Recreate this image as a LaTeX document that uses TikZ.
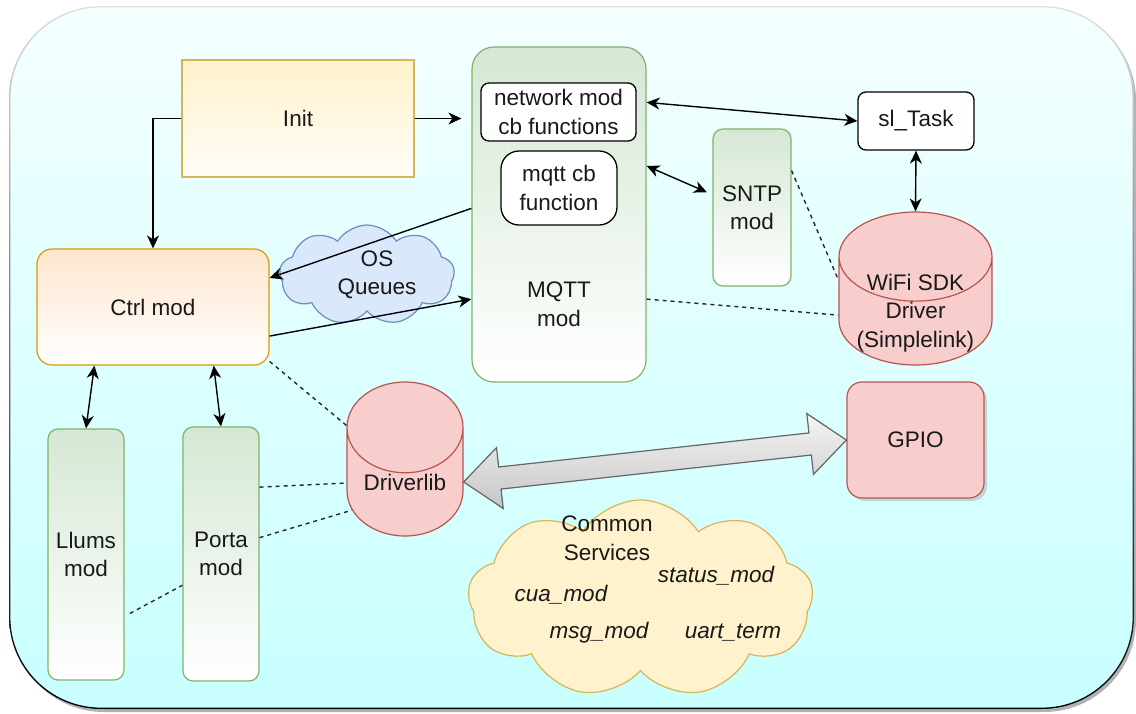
\documentclass[tikz,border=0pt]{standalone}
\usepackage{fontspec}
\setmainfont{Liberation Sans}
\usetikzlibrary{arrows.meta,calc,shadows,shapes.arrows,shapes.geometric,shapes.symbols}

\definecolor{bgtop}{HTML}{F4FFFF}
\definecolor{bgmid}{HTML}{D6FFFF}
\definecolor{bgbot}{HTML}{C8FFFF}
\definecolor{yelfill}{HTML}{FFF2CC}
\definecolor{yelline}{HTML}{D6B656}
\definecolor{orgfill}{HTML}{FFE6CC}
\definecolor{orgline}{HTML}{D79B00}
\definecolor{grnfill}{HTML}{D5E8D4}
\definecolor{grnline}{HTML}{82B366}
\definecolor{redfill}{HTML}{F8CECC}
\definecolor{redline}{HTML}{B85450}
\definecolor{blufill}{HTML}{DAE8FC}
\definecolor{bluline}{HTML}{6C8EBF}

\tikzset{
  txt/.style={font=\fontsize{22.5}{28.5}\selectfont, align=center, text=black!90},
  svc/.style={txt, font=\fontsize{22.5}{28.5}\selectfont\itshape},
  initbox/.style={txt, draw=yelline, top color=yelfill, bottom color=yelfill!20!white, line width=1.2pt, inner sep=0pt},
  ctrlbox/.style={txt, draw=orgline, top color=orgfill, bottom color=white, rounded corners=15pt, line width=1.2pt, inner sep=0pt},
  modbox/.style={txt, draw=grnline, top color=grnfill, bottom color=white, rounded corners=10pt, line width=1.2pt, inner sep=0pt},
  cbbox/.style={txt, draw=black, fill=white, line width=1.3pt, inner sep=0pt},
  store/.style={txt, cylinder, shape border rotate=90, anchor=shape center, draw=redline, fill=redfill, line width=1.2pt, inner sep=0pt},
  gpiobox/.style={txt, draw=redline, fill=redfill, rounded corners=15pt, line width=1.2pt, inner sep=0pt,
    drop shadow={opacity=0.3, shadow xshift=3pt, shadow yshift=-3pt}},
  puff/.style={cloud, cloud puffs=9, cloud puff arc=115, cloud ignores aspect, line width=1.2pt, inner sep=0pt},
  bus/.style={double arrow, double arrow head extend=19.5pt, double arrow tip angle=80, inner xsep=0pt, inner ysep=10.5pt,
    draw=black!60, top color=gray!8, bottom color=gray!45, line width=1.2pt},
  flow/.style={->, line width=1.4pt},
  link/.style={<->, line width=1.4pt},
  dep/.style={line width=1.4pt, dash pattern=on 4pt off 4pt, black!85}
}

\begin{document}
\begin{tikzpicture}[x=1pt, y=-1pt, >={Stealth[length=13pt,width=12pt,inset=4pt]}]
  \useasboundingbox (0,0) rectangle (1136,713);
  % frame
  \fill[black!30, rounded corners=92pt] (12,9) rectangle (1136,712);
  \shade[top color=bgtop, middle color=bgmid, bottom color=bgbot, rounded corners=92pt] (9,6) rectangle (1134,709);
  \shade[top color=gray!25, middle color=black!80, bottom color=black, even odd rule, rounded corners=92pt]
    (9,6) rectangle (1134,709) [rounded corners=90.6pt] (10.4,7.4) rectangle (1132.6,707.6);

  % modules
  \node[initbox, minimum width=232, minimum height=117] (init) at (298,118.5) {Init};
  \node[modbox, rounded corners=22pt, minimum width=174, minimum height=335] (mqtt) at (559,214.5) {};
  \node[txt] (mqtttxt) at (559,304) {MQTT\\mod};
  \node[cbbox, rounded corners=8pt, minimum width=155, minimum height=58] (netcb) at (558.5,112) {network mod\\cb functions};
  \node[cbbox, rounded corners=18pt, minimum width=116, minimum height=74] (mqttcb) at (559,188) {mqtt cb\\function};
  \node[cbbox, rounded corners=8pt, minimum width=116, minimum height=58] (sltask) at (916,121) {sl\_Task};
  \node[modbox, minimum width=78, minimum height=157] (sntp) at (752,207.5) {SNTP\\mod};
  \node[store, aspect=1.08, minimum width=153, minimum height=153] (wifi) at (915.5,288.5) {\hphantom{Driverlib}};
  \node[txt] (wifitxt) at (915.5,313) {WiFi SDK\\Driver\\(Simplelink)};
  \node[ctrlbox, minimum width=232, minimum height=116] (ctrl) at (153,307) {Ctrl mod};
  \node[puff, draw=bluline, fill=blufill, minimum width=175, minimum height=100] (queues) at (367,275) {};
  \node[txt] (queuestxt) at (377,275) {OS\\Queues};
  \node[modbox, minimum width=76, minimum height=251] (llums) at (86,554.5) {Llums\\mod};
  \node[modbox, minimum width=76, minimum height=254] (porta) at (221,554) {Porta\\mod};
  \node[store, aspect=1.1, minimum width=116, minimum height=154] (drv) at (405,459) {Driverlib};
  \node[gpiobox, minimum width=137, minimum height=116] (gpio) at (915.5,440) {GPIO};
  \node[puff, draw=yelline, fill=yelfill, minimum width=345, minimum height=198] (common) at (640.5,599) {};
  \node[txt] (commontxt) at (607,538) {Common\\Services};
  \node[svc] (status) at (716,576) {status\_mod};
  \node[svc] (cua) at (561,595) {cua\_mod};
  \node[svc] (msg) at (599,633) {msg\_mod};
  \node[svc] (uart) at (733,633) {uart\_term};

  % connectors
  \draw[flow] (init.west) -| (ctrl.north);
  \draw[flow, shorten >=10pt] (init.east) -- (init.east -| mqtt.west);
  \draw[link] (mqtt.52) -- (sltask.west);
  \draw[link, shorten >=6pt] (mqtt.29) -- (sntp.162);
  \draw[link] (sltask.south) -- (wifi.north);
  \draw[flow] (mqtt.176) -- (ctrl.14);
  \draw[flow] (ctrl.-14) -- (mqtt.224);
  \draw[link] (ctrl.225) -- (llums.north);
  \draw[link] (ctrl.-44) -- (porta.north);

  \draw[dep] (sntp.43) -- (wifi.158);
  \draw[dep] (mqtt.-44) -- (wifi.183);
  \draw[dep] (ctrl.-25) -- (drv.136);
  \draw[dep] (porta.60) -- (drv.181);
  \draw[dep] (porta.23) -- (drv.208);
  \draw[dep, shorten <=6pt] (llums.-58) -- (porta.219);

  \path let \p1=($(gpio.west)-(drv.east)$), \n1={atan2(\y1,\x1)}, \n2={veclen(\x1,\y1)} in
    node[bus, rotate=\n1, minimum height=\n2] (gpiobus) at ($(drv.east)!0.5!(gpio.west)$) {};
\end{tikzpicture}
\end{document}
